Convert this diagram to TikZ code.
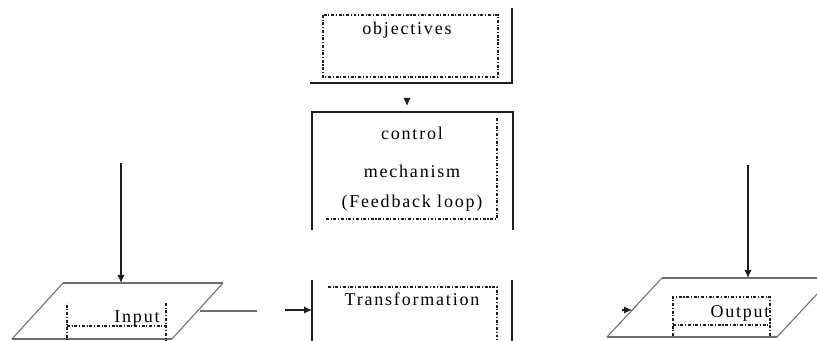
\documentclass[tikz,border=0pt]{standalone}
\usepackage{fontspec}
\setmainfont{Liberation Serif}
\newfontfamily\wordfont[LetterSpace=10]{Liberation Serif}
\usetikzlibrary{arrows.meta}
\definecolor{lineDark}{HTML}{1E1E1E}
\definecolor{slantGray}{HTML}{6E6E6E}
\tikzset{
  solidEdge/.style={draw=lineDark, line width=1.4pt},
  thinEdge/.style={draw=slantGray, line width=0.8pt},
  dotEdge/.style={draw=lineDark, line width=0.9pt,
                  dash pattern=on 2.2pt off 1.3pt on 0.8pt off 1.3pt},
  arrowK/.style={-{Latex[length=6pt, width=5.5pt]}, lineDark, line width=1pt},
  wordText/.style={font=\wordfont\fontsize{13.5}{15}\selectfont, text=black,
                   inner sep=0pt},
}

\begin{document}
\begin{tikzpicture}[x=0.75pt, y=-0.75pt]
  \useasboundingbox (0,0) rectangle (817,341);

  % objectives, with its shadow edge
  \draw[dotEdge] (323,15) rectangle (498,77);
  \draw[solidEdge] (310,83) -- (512,83) -- (512,8);
  \node[wordText] (obj) at (407,30) {objectives};

  % control mechanism
  \draw[solidEdge] (312,230) -- (312,112) -- (513,112) -- (513,230);
  \draw[dotEdge] (326,219) -- (497,219) -- (497,118);
  \node[wordText] (ctl) at (412,133) {control};
  \node[wordText] (mech) at (412,171) {mechanism};
  \node[wordText] (fbl) at (412,203) {(Feedback loop)};
  \coordinate (objOut) at (407,98);
  \coordinate (ctlIn) at (407,106);
  \draw[arrowK] (objOut) -- (ctlIn);

  % transformation
  \draw[solidEdge] (312,280) -- (312,345);
  \draw[solidEdge] (512,280) -- (512,345);
  \draw[dotEdge] (328,287) -- (497,287) -- (497,345);
  \node[wordText] (trf) at (412,299) {Transformation};

  % input
  \draw[thinEdge, line width=1pt] (63,283) -- (223,283);
  \draw[thinEdge, line width=1pt] (12,339) -- (172,339);
  \draw[thinEdge] (63,283) -- (12,339);
  \draw[thinEdge] (223,283) -- (172,339);
  \draw[dotEdge] (67,345) -- (67,303);
  \draw[dotEdge] (67,326) -- (166,326);
  \draw[dotEdge] (166,303) -- (166,345);
  \node[wordText] (inp) at (137,319) {Input};
  \coordinate (inSrc) at (121,163);
  \coordinate (inTop) at (121,283);
  \draw[arrowK] (inSrc) -- (inTop);
  \coordinate (inOut) at (200,311);
  \coordinate (inEnd) at (257,311);
  \draw[thinEdge] (inOut) -- (inEnd);
  \coordinate (trfFeed) at (285,310);
  \coordinate (trfIn) at (312,310);
  \draw[arrowK] (trfFeed) -- (trfIn);

  % output
  \draw[thinEdge, line width=1pt] (662,278) -- (840,278);
  \draw[thinEdge, line width=1pt] (607,337) -- (777,337);
  \draw[thinEdge] (662,278) -- (607,337);
  \draw[thinEdge] (777,337) -- (832,278);
  \draw[dotEdge] (673,336) -- (673,297) -- (770,297) -- (770,336);
  \draw[dotEdge] (673,325) -- (770,325);
  \node[wordText] (outp) at (740,313) {Output};
  \coordinate (outSrc) at (748,165);
  \coordinate (outTop) at (748,278);
  \draw[arrowK] (outSrc) -- (outTop);
  \coordinate (outSide) at (622,310);
  \coordinate (outIn) at (632,310);
  \draw[arrowK] (outSide) -- (outIn);
\end{tikzpicture}
\end{document}
